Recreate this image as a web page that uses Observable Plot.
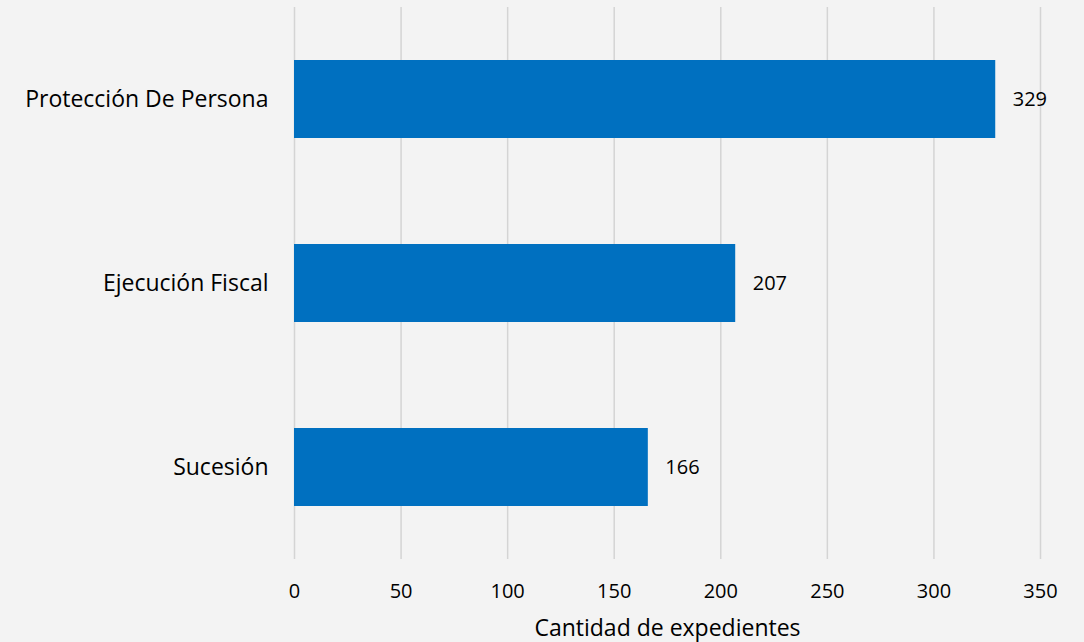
<!DOCTYPE html>
<html>
<head>
<meta charset="utf-8">
<script src="https://cdn.jsdelivr.net/npm/d3@7"></script>
<script src="https://cdn.jsdelivr.net/npm/@observablehq/plot@0.6"></script>
<style>
  html, body { margin: 0; padding: 0; background: #f3f3f3; }
  #chart svg { display: block; background: #f3f3f3; }
</style>
</head>
<body>
<div id="chart"></div>
<script>
const categories = ["Protección De Persona", "Ejecución Fiscal", "Sucesión"];
const values = [329, 207, 166];
const xTicks = [0, 50, 100, 150, 200, 250, 300, 350];
const xLabel = "Cantidad de expedientes";

const data = categories.map((c, i) => ({category: c, value: values[i]}));

const chart = Plot.plot({
  width: 1084,
  height: 642,
  marginLeft: 294,
  marginRight: 44,
  marginTop: 7,
  marginBottom: 83,
  style: {fontFamily: "'Open Sans', sans-serif", fontSize: "20px", color: "#000", background: "#f3f3f3"},
  x: {domain: [0, 350], ticks: xTicks, label: null},
  y: {domain: categories, paddingInner: 0.577, paddingOuter: 0.285, label: null},
  marks: [
    Plot.gridX(xTicks, {stroke: "#d4d4d4", strokeOpacity: 1, strokeWidth: 1.5}),
    Plot.barX(data, {x: "value", y: "category", fill: "#0070C0"}),
    Plot.text(data, {x: "value", y: "category", text: d => String(d.value), dx: 17, textAnchor: "start", fill: "#000", fontSize: 20}),
    Plot.axisX({ticks: xTicks, tickSize: 0, tickPadding: 24, fontSize: 20, label: null}),
    Plot.axisY({tickSize: 0, tickPadding: 26, fontSize: 23, label: null}),
    Plot.text([xLabel], {frameAnchor: "bottom", dy: 76, text: d => d, fontSize: 23, fill: "#000"})
  ]
});
document.getElementById("chart").appendChild(chart);
</script>
</body>
</html>
